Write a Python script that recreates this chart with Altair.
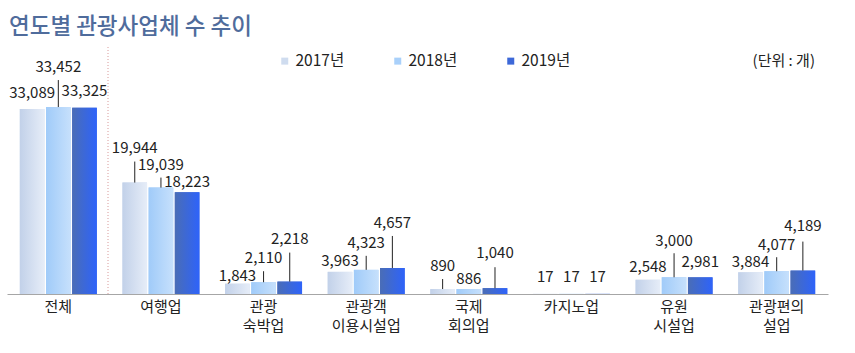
import altair as alt
import pandas as pd

FONT = "Noto Sans CJK KR"

categories = ["전체", "여행업", "관광 숙박업", "관광객 이용시설업", "국제 회의업", "카지노업", "유원 시설업", "관광편의 설업"]
years = ["2017년", "2018년", "2019년"]
v2017 = [33089, 19944, 1843, 3963, 890, 17, 2548, 3884]
v2018 = [33452, 19039, 2110, 4323, 886, 17, 3000, 4077]
v2019 = [33325, 18223, 2218, 4657, 1040, 17, 2981, 4189]

# layout only: leader-line length / label lift above the bar top (pixels)
line_px = {
    "2017년": [0, 21, 0, 0, 10, 0, 0, 0],
    "2018년": [27, 10, 11, 14, 0, 0, 24, 14],
    "2019년": [0, 0, 29, 32, 21, 0, 0, 29],
}
lab_px = {
    "2017년": [16, 35, 8, 11, 23, 17, 13, 10],
    "2018년": [40, 23, 24, 27, 10, 17, 36, 26],
    "2019년": [17, 10, 43, 45, 35, 17, 15, 45],
}

W, H = 821, 247
YMAX = 44200
PX = YMAX / H

values = {"2017년": v2017, "2018년": v2018, "2019년": v2019}
rows = []
for y in years:
    for i, c in enumerate(categories):
        rows.append({"cat": c, "year": y, "value": values[y][i],
                     "line": line_px[y][i], "lab": lab_px[y][i]})
df = pd.DataFrame(rows)

solid = ["#cfdcef", "#a9d0fa", "#3d68d8"]
grads = {
    "2017년": ("#c2d1e9", "#e6edf8"),
    "2018년": ("#a0cbf9", "#c6e0fc"),
    "2019년": ("#4a6db6", "#2e63fa"),
}

x_enc = alt.X("cat:N", sort=categories,
              scale=alt.Scale(paddingInner=0.25, paddingOuter=0.125),
              axis=alt.Axis(title=None, labelExpr="split(datum.label, ' ')",
                            labelAngle=0, ticks=False, domainColor="#a6a6a6",
                            labelFontSize=15, labelFont=FONT, labelColor="#222",
                            labelPadding=5, labelLineHeight=19))
xo_enc = alt.XOffset("year:N", sort=years,
                     scale=alt.Scale(paddingInner=0.06, paddingOuter=0))
y_enc = alt.Y("value:Q", scale=alt.Scale(domain=[0, YMAX]), axis=None)

base = alt.Chart(df)

bars = base.mark_bar().encode(
    x=x_enc, xOffset=xo_enc, y=y_enc,
    color=alt.Color("year:N", sort=years,
                    scale=alt.Scale(domain=years, range=solid),
                    legend=alt.Legend(orient="none", legendX=270, legendY=6,
                                      direction="horizontal", title=None,
                                      symbolType="square", symbolSize=49,
                                      symbolStrokeWidth=0,
                                      labelFontSize=15.5, labelFont=FONT,
                                      labelColor="#222", labelOffset=3,
                                      columnPadding=45)),
)

grad_layers = []
for y in years:
    a, b = grads[y]
    g = alt.Gradient(gradient="linear",
                     stops=[alt.GradientStop(color=a, offset=0),
                            alt.GradientStop(color=b, offset=1)],
                     x1=0, x2=1, y1=0, y2=0)
    grad_layers.append(
        base.transform_filter(alt.datum.year == y)
        .mark_bar(fill=g)
        .encode(x=x_enc, xOffset=xo_enc, y=y_enc)
    )

rules = base.transform_filter("datum.line > 0").transform_calculate(
    top=f"datum.value + datum.line * {PX}"
).mark_rule(color="#222", strokeWidth=1).encode(
    x=x_enc, xOffset=xo_enc, y=y_enc, y2="top:Q"
)

labels = base.transform_calculate(
    ly=f"datum.value + datum.lab * {PX}"
).mark_text(fontSize=15, font=FONT, color="#222", baseline="middle",
            align="center").encode(
    x=x_enc, xOffset=xo_enc,
    y=alt.Y("ly:Q", scale=alt.Scale(domain=[0, YMAX]), axis=None),
    text=alt.Text("value:Q", format=","),
)

sep = alt.Chart(pd.DataFrame({"a": [0]})).mark_rule(
    color="#d99a9a", strokeDash=[1, 2], strokeWidth=1
).encode(x=alt.value(101), y=alt.value(0), y2=alt.value(H))

title = alt.Chart(pd.DataFrame({"t": ["연도별 관광사업체 수 추이"]})).mark_text(
    fontSize=22.5, font=FONT, color="#4f6c9c", align="left", baseline="middle",
    fontWeight=500
).encode(x=alt.value(2), y=alt.value(-20), text="t:N")

unit = alt.Chart(pd.DataFrame({"t": ["(단위 : 개)"]})).mark_text(
    fontSize=15, font=FONT, color="#222", align="right", baseline="middle"
).encode(x=alt.value(808), y=alt.value(14), text="t:N")

chart = alt.layer(bars, *grad_layers, rules, labels, sep, title, unit).properties(
    width=W, height=H,
    padding={"left": 7, "top": 47, "right": 27, "bottom": 59},
    autosize="none",
).configure_view(stroke=None)

chart.save("out.html", embed_options={"renderer": "svg", "actions": False})
